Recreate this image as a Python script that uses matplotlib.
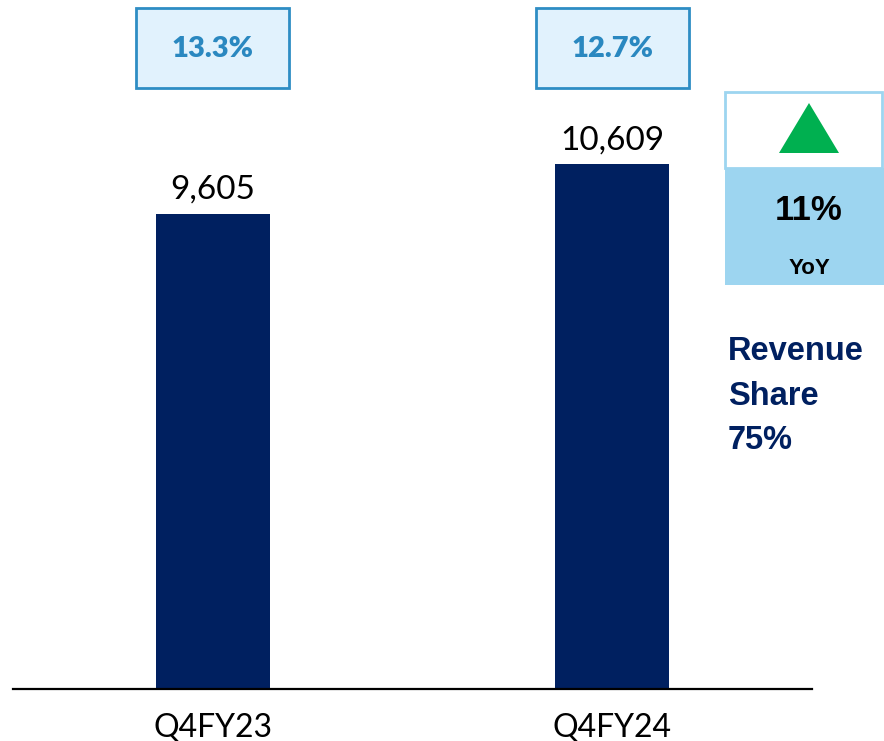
import matplotlib
matplotlib.use("Agg")
import matplotlib.pyplot as plt
from matplotlib.patches import Rectangle, Polygon
from matplotlib.transforms import blended_transform_factory

categories = ["Q4FY23", "Q4FY24"]
values = [9605, 10609]
margins = ["13.3%", "12.7%"]
yoy_text = "11%"
yoy_label = "YoY"
share_text = "Revenue\nShare\n75%"

W, H = 884, 741
fig = plt.figure(figsize=(W / 100, H / 100), dpi=100)
ax = fig.add_axes([13 / W, 1 - 689 / H, (812 - 13) / W, 689 / H])

x = list(range(len(categories)))
ax.bar(x, values, width=0.285, color="#002060")
ax.set_xlim(-0.5, 1.5)
ax.set_ylim(0, 13928)
for xi, v in zip(x, values):
    ax.text(xi, v + 300, f"{v:,}", ha="center", va="baseline", fontsize=24,
            family="Lato", color="black")

for s in ["top", "right", "left"]:
    ax.spines[s].set_visible(False)
ax.spines["bottom"].set_linewidth(1.6)
ax.spines["bottom"].set_color("black")
ax.set_yticks([])
ax.set_xticks(x)
ax.set_xticklabels(categories, fontsize=23, family="Lato")
ax.tick_params(axis="x", length=0, pad=17)

# margin boxes above bars
tr = blended_transform_factory(ax.transData, fig.transFigure)
bw = 153 / 400
for xi, m in zip(x, margins):
    rect = Rectangle((xi - bw / 2, 1 - 88 / H), bw, 80 / H, transform=tr,
                     facecolor="#E1F2FD", edgecolor="#2E8DC4", linewidth=2,
                     clip_on=False)
    fig.add_artist(rect)
    fig.text(xi, 1 - 49 / H, m, transform=tr, ha="center", va="center",
             fontsize=21, fontweight="heavy", family="Lato", color="#2A88C0")

# YoY box on the right
fig.add_artist(Rectangle((725 / W, 1 - 285 / H), (884 - 725) / W, (285 - 168) / H,
                         transform=fig.transFigure, facecolor="#9DD5F0",
                         edgecolor="none"))
fig.add_artist(Rectangle((725 / W, 1 - 168 / H), (882 - 725) / W, (168 - 92) / H,
                         transform=fig.transFigure, facecolor="white",
                         edgecolor="#9DD5F0", linewidth=2))
fig.add_artist(Polygon([(779 / W, 1 - 153 / H), (839 / W, 1 - 153 / H),
                        (809 / W, 1 - 103 / H)], closed=True,
                       transform=fig.transFigure, facecolor="#00B050",
                       edgecolor="none"))
fig.text(809 / W, 1 - 210 / H, yoy_text, ha="center", va="center", fontsize=25,
         fontweight="bold", family="Liberation Sans", color="black")
fig.text(809 / W, 1 - 268 / H, yoy_label, ha="center", va="center", fontsize=16,
         fontweight="bold", family="Liberation Sans", color="black")

fig.text(728 / W, 1 - 336 / H, share_text, ha="left", va="top", fontsize=23.5,
         fontweight="bold", family="Liberation Sans",
         color="#002060", linespacing=1.57)

fig.savefig("out.png", dpi=100)
